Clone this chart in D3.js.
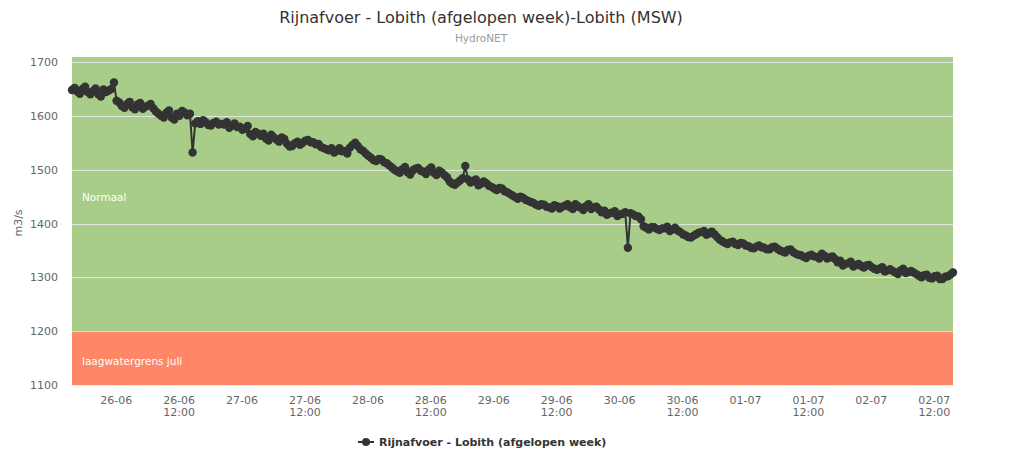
<!DOCTYPE html>
<html><head><meta charset="utf-8">
<script src="https://cdn.jsdelivr.net/npm/d3@7"></script>
<style>body{margin:0;background:#fff;}svg{display:block;font-family:"DejaVu Sans",sans-serif;}</style>
</head><body><svg id="c" width="1023" height="469"></svg>
<script>
const titleText = "Rijnafvoer - Lobith (afgelopen week)-Lobith (MSW)";
const subtitleText = "HydroNET";
const seriesName = "Rijnafvoer - Lobith (afgelopen week)";
const yAxisTitle = "m3/s";
const yTicks = [1100, 1200, 1300, 1400, 1500, 1600, 1700];
const startTime = "2025-06-25T15:40:00Z";
const stepMinutes = 30;
const values = [
 1648,1652,1645,1641,1650,1654,1644,1640,1646,1651,1640,1636,1649,1644,1647,1650,
 1662,
 1628,1625,1618,1615,1622,1626,1616,1612,1621,1624,1613,1617,1619,1622,1614,
 1608,1604,1600,1597,1606,1610,1597,1593,1604,1600,1609,1606,1601,1604,
 1532,
 1586,1590,1585,1592,1588,1583,1582,1587,1589,1584,1585,
 1584,1588,1578,1582,1586,1579,1580,1574,1576,1581,
 1566,1562,1570,1567,
 1563,1567,1558,1554,1565,1560,1556,1552,1560,1557,
 1548,1543,1544,1549,1552,1546,1550,1554,
 1555,1551,1551,1547,1548,1542,1540,1538,
 1536,1540,1532,1535,1540,1534,1535,1530,
 1541,1546,1550,1544,1538,1535,1530,1526,
 1522,1518,1516,1520,1519,1514,1512,1508,
 1504,1500,1497,1494,1501,1505,1495,1491,1499,1502,1503,1498,1496,1492,1500,1504,1494,1490,1498,1495,1490,1486,
 1478,1474,1472,1476,1480,1484,
 1507,
 1482,1476,1479,1482,1471,1474,1478,1475,1470,
 1468,1465,1462,1466,1465,1460,1458,1455,
 1452,1449,1446,1450,1448,1444,1442,1440,
 1438,1435,1433,1436,1435,1431,1430,1428,1434,1432,
 1428,1431,1433,1436,1430,1427,1436,1432,1429,1425,1432,1436,1427,1430,1431,1426,
 1421,1424,1416,1419,1420,1423,1414,1417,1418,1421,
 1355,
 1419,1417,1414,1413,1408,
 1395,1392,1389,1393,1393,1390,1388,1391,
 1391,1394,1386,1389,1392,1387,1384,1380,
 1378,1375,1374,1377,1380,1383,
 1384,1386,1379,1382,1385,1380,1375,1370,
 1367,1364,1362,1365,1366,1362,1360,1364,1363,1359,
 1358,1355,1354,1357,1359,1356,1355,1352,1352,1356,1357,1353,
 1350,1348,1346,1351,1352,1347,1344,1342,
 1341,1338,1336,1340,1342,1339,1338,1335,1344,1340,1335,1337,1339,1334,
 1328,1331,1322,1325,1326,1329,1320,1323,1325,1321,1318,1322,1323,1319,1316,1314,
 1316,1319,1311,1313,1315,1312,1309,1306,1313,1316,1308,1310,1312,1309,
 1306,1303,1300,1304,1305,1299,1298,1302,1303,1297,1297,1301,1302,1305,1309
];
const bands = [
 {from:1200, to:1710, color:"#a8cd88", label:"Normaal"},
 {from:1100, to:1200, color:"#fd8767", label:"laagwatergrens juli"}
];

const t0 = new Date(startTime).getTime();
const data = values.map((v,i)=>({t:new Date(t0 + i*stepMinutes*60e3), v}));

const svg = d3.select("#c");
const L=72, R=953, T=57;
const x = d3.scaleUtc().domain(d3.extent(data,d=>d.t)).range([L,R]);
const y = d3.scaleLinear().domain([1100,1700]).range([385,62]);

// title
svg.append("text").attr("x",481).attr("y",23).attr("text-anchor","middle")
  .attr("font-size",16).attr("fill","#333").text(titleText);
svg.append("text").attr("x",481).attr("y",42).attr("text-anchor","middle")
  .attr("font-size",10.5).attr("fill","#9a9a9a").text(subtitleText);

// bands
bands.forEach(b=>{
  const y1 = Math.max(T, y(b.to)), y2 = y(b.from);
  svg.append("rect").attr("x",L).attr("y",y1).attr("width",R-L).attr("height",y2-y1).attr("fill",b.color);
  svg.append("text").attr("x",L+10).attr("y",(y1+y2)/2+7).attr("font-size",10.5)
    .attr("fill","#ffffff").text(b.label);
});

// grid
svg.append("g").selectAll("line").data(yTicks).join("line")
  .attr("x1",L).attr("x2",R).attr("y1",d=>Math.round(y(d))+0.5).attr("y2",d=>Math.round(y(d))+0.5)
  .attr("stroke",d=>d===1200?"#e8e6a8":"#eaeaea").attr("stroke-opacity",0.85);

// y axis labels
const yAxis = d3.axisLeft(y).tickValues(yTicks).tickFormat(d3.format("d")).tickSize(0).tickPadding(0);
const gy = svg.append("g").attr("transform",`translate(${L-14},0)`).call(yAxis);
gy.select(".domain").remove();
gy.selectAll("text").attr("font-size",11).attr("fill","#666").attr("font-family","DejaVu Sans");
svg.append("text").attr("transform","translate(22,223) rotate(-90)").attr("text-anchor","middle")
  .attr("font-size",11).attr("fill","#666").text(yAxisTitle);

// x axis
const fmtD = d3.utcFormat("%d-%m"), fmtH = d3.utcFormat("%H:%M");
const xt = d3.utcHour.every(12).range(x.domain()[0], x.domain()[1]);
const xAxis = d3.axisBottom(x).tickValues(xt).tickSize(0).tickPadding(0).tickFormat("");
const gx = svg.append("g").attr("transform","translate(0,385)").call(xAxis);
gx.select(".domain").remove();
gx.selectAll(".tick").each(function(d){
  const g = d3.select(this);
  g.append("text").attr("y",19).attr("text-anchor","middle").attr("font-size",11)
    .attr("fill","#666").attr("font-family","DejaVu Sans").text(fmtD(d));
  if (d.getUTCHours()===12) g.append("text").attr("y",31).attr("text-anchor","middle")
    .attr("font-size",11).attr("fill","#666").attr("font-family","DejaVu Sans").text(fmtH(d));
});

// series
const line = d3.line().x(d=>x(d.t)).y(d=>y(d.v));
svg.append("path").datum(data).attr("d",line).attr("fill","none").attr("stroke","#333").attr("stroke-width",2);
svg.append("g").selectAll("circle").data(data).join("circle")
  .attr("cx",d=>x(d.t)).attr("cy",d=>y(d.v)).attr("r",4.2).attr("fill","#333");

// legend
const lg = svg.append("g").attr("transform","translate(0,442)");
lg.append("line").attr("x1",358).attr("x2",374).attr("y1",0).attr("y2",0).attr("stroke","#333").attr("stroke-width",2);
lg.append("circle").attr("cx",366).attr("cy",0).attr("r",4).attr("fill","#333");
lg.append("text").attr("x",379).attr("y",4).attr("font-size",11).attr("font-weight","bold")
  .attr("fill","#333").text(seriesName);
</script></body></html>
